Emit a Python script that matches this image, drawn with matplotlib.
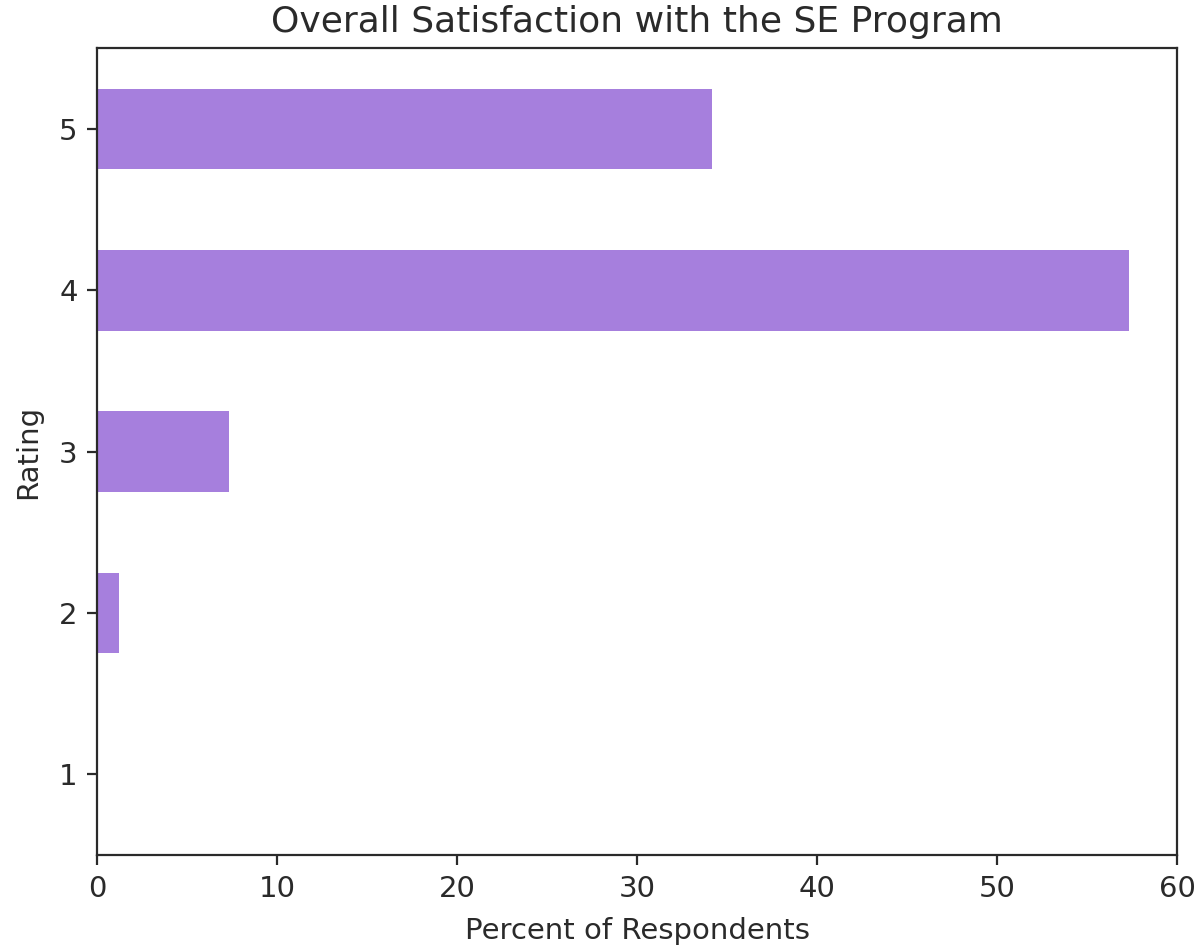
import matplotlib
matplotlib.use('Agg')
from matplotlib import pyplot as plt

ratings = [1, 2, 3, 4, 5]
percents = [0.0, 1.22, 7.32, 57.32, 34.15]

plt.rcParams['font.family'] = ['DejaVu Sans']
text_color = '#2a2a2a'

fig = plt.figure(figsize=(5.99, 4.73), dpi=200)
ax = fig.add_axes([0.081, 0.096, 0.9015, 0.853])
ax.barh(ratings, percents, height=0.5, color='#a67fdd')

ax.set_xlim(0, 60)
ax.set_ylim(0.5, 5.5)
ax.set_yticks(ratings)
ax.set_xticks(range(0, 61, 10))
ax.tick_params(labelsize=10.5, colors=text_color, width=0.8)
for s in ax.spines.values():
    s.set_linewidth(0.8)
    s.set_color(text_color)

ax.set_title('Overall Satisfaction with the SE Program', fontsize=13, color=text_color, pad=6)
ax.set_xlabel('Percent of Respondents', fontsize=10.5, color=text_color, labelpad=5)
ax.set_ylabel('Rating', fontsize=10.5, color=text_color, labelpad=6)

fig.savefig('out.png', dpi=200)
